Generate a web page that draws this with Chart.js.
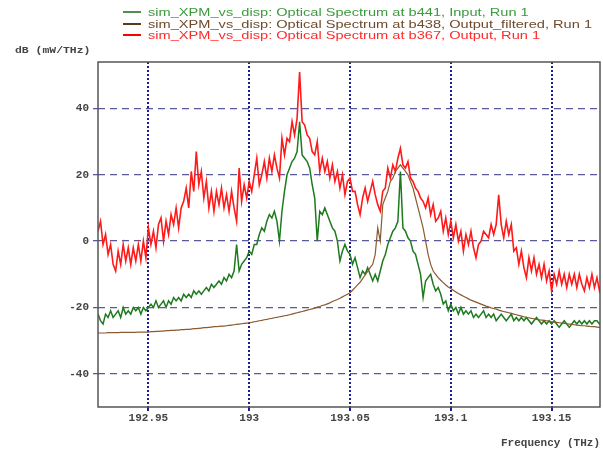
<!DOCTYPE html>
<html>
<head>
<meta charset="utf-8">
<script src="https://cdn.jsdelivr.net/npm/chart.js@4.4.0/dist/chart.umd.min.js"></script>
<style>
  html, body { margin: 0; padding: 0; background: #fff; }
  canvas { display: block; }
</style>
</head>
<body>
<canvas id="spectrum" width="603" height="454"></canvas>
<script>
// sampling grid of the analyser (THz)
var freqStart = 192.925;
var freqStep = 0.00125;

var xTicks = [192.95, 193, 193.05, 193.1, 193.15];
var yTicks = [-40, -20, 0, 20, 40];

var seriesLabels = [
    'sim_XPM_vs_disp: Optical Spectrum at b441, Input, Run 1',
    'sim_XPM_vs_disp: Optical Spectrum at b438, Output_filtered, Run 1',
    'sim_XPM_vs_disp: Optical Spectrum at b367, Output, Run 1'
];

// dB (mW/THz), one value per frequency sample
var inputDb = [
    -22, -24, -25, -22, -23, -21, -23, -22, -21, -23,
    -20, -22, -21, -22, -20, -21, -20, -22, -20, -21,
    -20, -19, -20, -18, -20, -19, -18, -20, -18, -19,
    -17, -18, -17, -18, -16, -17, -16, -17, -15, -16,
    -15, -16, -15, -14, -15, -13, -14, -13, -12, -13,
    -11, -12, -10, -11, -9, -1, -9, -7, -6, -5,
    -3, -4, -1, -1, 2, 4, 3, 6, 8, 7,
    9, 6, 0, 9, 15, 20, 22, 24, 25, 27,
    36, 26, 25, 24, 22, 17, 13, 0, 9, 8,
    10, 8, 6, 4, 3, 0, -6, -3, -1, -3,
    -4, -7, -5, -8, -11, -9, -10, -8, -10, -12,
    -10, -12, -9, -6, -4, -1, 1, 3, 4, 6,
    21, 4, 3, 1, 0, -3, -4, -7, -10, -17,
    -12, -11, -10, -13, -15, -14, -16, -19, -18, -21,
    -19, -21, -20, -22, -20, -22, -21, -22, -21, -23,
    -22, -23, -22, -21, -23, -22, -23, -22, -24, -23,
    -22, -23, -24, -23, -22, -24, -23, -24, -23, -24,
    -23, -24, -25, -24, -23, -24, -25, -24, -25, -24,
    -25, -24, -25, -26, -25, -24, -25, -26, -25, -24,
    -25, -24, -25, -24, -25, -24, -25, -24, -24, -25, -24
];

var filteredDb = [
    -27.7, -27.7, -27.7, -27.7, -27.6, -27.6, -27.6, -27.6, -27.6, -27.5,
    -27.5, -27.5, -27.5, -27.5, -27.5, -27.5, -27.4, -27.4, -27.4, -27.4,
    -27.4, -27.3, -27.3, -27.2, -27.2, -27.1, -27.1, -27.0, -27.0, -26.9,
    -26.9, -26.8, -26.8, -26.7, -26.7, -26.6, -26.6, -26.5, -26.4, -26.4,
    -26.3, -26.2, -26.1, -26.1, -26.0, -25.9, -25.8, -25.8, -25.7, -25.6,
    -25.6, -25.5, -25.4, -25.3, -25.2, -25.1, -25.0, -24.9, -24.8, -24.7,
    -24.6, -24.5, -24.3, -24.2, -24.0, -23.9, -23.7, -23.6, -23.4, -23.3,
    -23.1, -23.0, -22.8, -22.7, -22.5, -22.4, -22.2, -22.0, -21.8, -21.6,
    -21.4, -21.2, -21.0, -20.8, -20.6, -20.4, -20.2, -19.9, -19.7, -19.4,
    -19.2, -18.9, -18.6, -18.2, -17.9, -17.6, -17.2, -16.8, -16.4, -16.0,
    -15.6, -14.8, -14.0, -13.2, -12.4, -11.3, -10.2, -9.1, -8.0, -7.0,
    -4, 4, 0, 11, 13, 15, 18, 19, 21, 22,
    23, 22, 21, 20, 18, 16, 13, 10, 7, 4,
    0, -4, -7, -9, -10, -11, -11.8, -12.5, -13.2, -13.8,
    -14.3, -14.8, -15.3, -15.8, -16.2, -16.6, -17.0, -17.4, -17.8, -18.1,
    -18.4, -18.7, -19.0, -19.3, -19.6, -19.8, -20.1, -20.3, -20.5, -20.8,
    -21.0, -21.2, -21.4, -21.6, -21.8, -22.0, -22.2, -22.4, -22.6, -22.8,
    -23.0, -23.1, -23.3, -23.4, -23.6, -23.7, -23.8, -23.9, -24.0, -24.1,
    -24.3, -24.4, -24.5, -24.6, -24.7, -24.8, -24.9, -25.0, -25.1, -25.2,
    -25.3, -25.4, -25.5, -25.5, -25.6, -25.7, -25.8, -25.8, -25.9, -26.0, -26.0
];

var outputDb = [
    3, 6, -1, 2, -4, -1, -7, -9, -3, -7,
    -1, -6, -2, -7, -2, -6, -1, -6, 0, -5,
    4, -1, 3, -2, 5, 7, 0, 6, 2, 8,
    5, 10, 4, 10, 12, 16, 10, 21, 15, 27,
    17, 21, 13, 18, 10, 15, 9, 15, 11, 16,
    10, 14, 9, 15, 10, 6, 22, 12, 17, 13,
    18, 15, 20, 25, 17, 20, 24, 19, 25, 21,
    26, 22, 19, 31, 26, 31, 30, 36, 32, 37,
    51, 36, 35, 32, 31, 27, 26, 30, 21, 25,
    21, 24, 19, 23, 18, 21, 16, 20, 14, 18,
    19, 15, 15, 11, 8, 13, 16, 12, 15, 18,
    14, 11, 9, 15, 16, 22, 19, 23, 21, 25,
    28, 23, 22, 24, 19, 18, 16, 15, 13, 12,
    10, 13, 8, 11, 6, 7, 9, 3, 7, 2,
    6, 1, 5, 0, 3, -3, 2, -1, 3, -2,
    -5, -1, 0, 3, 2, 1, 5, 2, 5, 14,
    5, 1, 6, 2, 5, -3, -2, -7, -3, -8,
    -11, -5, -9, -5, -10, -7, -11, -7, -12, -9,
    -15, -10, -13, -9, -13, -10, -14, -10, -13, -10,
    -14, -10, -13, -15, -11, -14, -10, -14, -11, -15, -12
];

function toPoints(values) {
    return values.map(function (v, i) {
        return {x: freqStart + i * freqStep, y: v};
    });
}

function fixTicks(values) {
    return function (scale) {
        scale.ticks = values.map(function (v) { return {value: v}; });
    };
}

// frame, y unit and the legend block at the top
var decorations = {
    id: 'decorations',
    afterDatasetsDraw: function (chart) {
        var ctx = chart.ctx;
        var a = chart.chartArea;
        ctx.save();
        ctx.strokeStyle = '#555';
        ctx.lineWidth = 1.5;
        ctx.strokeRect(a.left, a.top, a.right - a.left, a.bottom - a.top);

        ctx.fillStyle = '#444';
        ctx.textBaseline = 'middle';
        ctx.font = 'bold 9px "Liberation Mono"';
        ctx.translate(15, 51);
        ctx.scale(1.27, 1);
        ctx.fillText('dB (mW/THz)', 0, 0);
        ctx.restore();

        var rows = [12, 24, 35];
        chart.data.datasets.forEach(function (ds, k) {
            ctx.save();
            ctx.strokeStyle = ds.sampleColor;
            ctx.lineWidth = 2;
            ctx.beginPath();
            ctx.moveTo(123, rows[k]);
            ctx.lineTo(141, rows[k]);
            ctx.stroke();
            ctx.fillStyle = ds.textColor;
            ctx.textBaseline = 'middle';
            ctx.font = '11.5px "Liberation Sans"';
            ctx.translate(148, rows[k] + 0.5);
            ctx.scale(1.27, 1);
            ctx.fillText(ds.label, 0, 0);
            ctx.restore();
        });
    }
};

var tickFont = {family: '"Liberation Mono", monospace', size: 11, weight: 'bold'};

new Chart(document.getElementById('spectrum'), {
    type: 'line',
    data: {
        datasets: [{
            label: seriesLabels[0],
            data: toPoints(inputDb),
            borderColor: '#1f7a1f',
            sampleColor: '#4f8f4f',
            textColor: '#3c9a3c',
            borderWidth: 1.5,
            order: 1
        }, {
            label: seriesLabels[1],
            data: toPoints(filteredDb),
            borderColor: '#8a5a30',
            sampleColor: '#5a3a1a',
            textColor: '#6e4a2a',
            borderWidth: 1.2,
            order: 0
        }, {
            label: seriesLabels[2],
            data: toPoints(outputDb),
            borderColor: '#ff1a1a',
            sampleColor: '#ff0000',
            textColor: '#ff2a2a',
            borderWidth: 1.6,
            order: 2
        }]
    },
    options: {
        responsive: false,
        animation: false,
        devicePixelRatio: 1,
        layout: {padding: {top: 62, left: 0, right: 3, bottom: 0}},
        elements: {point: {radius: 0}, line: {tension: 0}},
        plugins: {legend: {display: false}, tooltip: {enabled: false}},
        scales: {
            x: {
                type: 'linear',
                min: 192.925,
                max: 193.174,
                afterBuildTicks: fixTicks(xTicks),
                afterFit: function (scale) { scale.height = 47; },
                grid: {color: '#1c1c8c', lineWidth: 2, tickLength: 4},
                border: {display: false, dash: [2, 2]},
                ticks: {
                    font: tickFont,
                    color: '#444',
                    padding: 1,
                    maxRotation: 0,
                    callback: function (value) { return String(Number(value.toFixed(2))); }
                },
                title: {
                    display: true,
                    text: 'Frequency (THz)',
                    align: 'end',
                    color: '#444',
                    font: {family: '"Liberation Mono", monospace', size: 11, weight: 'bold'},
                    padding: {top: 0, bottom: 4}
                }
            },
            y: {
                min: -50,
                max: 54,
                afterBuildTicks: fixTicks(yTicks),
                afterFit: function (scale) { scale.width = 98; },
                grid: {color: '#5a5a9a', lineWidth: 1.3, tickLength: 5},
                border: {display: false, dash: [7, 5]},
                ticks: {font: tickFont, color: '#444', padding: 4}
            }
        }
    },
    plugins: [decorations]
});
</script>
</body>
</html>
